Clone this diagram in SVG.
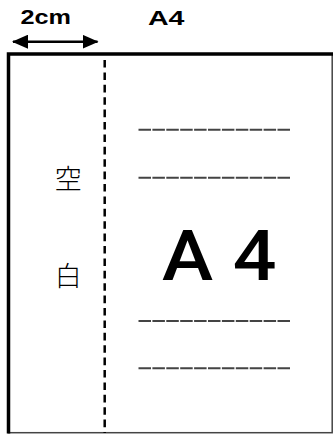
<svg xmlns="http://www.w3.org/2000/svg" width="333" height="434" viewBox="0 0 333 434">
<style>
.hdr{font-family:"Liberation Sans",Arial,sans-serif;font-weight:bold;font-size:20.5px;fill:#000}
.big{font-family:Roboto,"Liberation Sans",Arial,sans-serif;font-weight:500;font-size:70px;fill:#000}
.cjk{font-family:"Noto Sans CJK JP",sans-serif;font-weight:300;font-size:27px;fill:#000}
.rule{stroke:#444;stroke-width:2;stroke-dasharray:12.5 1.4;fill:none}
</style>
<defs>
<marker id="ah" viewBox="0 0 16 14" refX="15" refY="7" markerWidth="16" markerHeight="14" markerUnits="userSpaceOnUse" orient="auto-start-reverse">
<path d="M0 0 L16 7 L0 14 Z" fill="#000"/>
</marker>
</defs>
<rect width="333" height="434" fill="#fff"/>
<g id="page">
<rect x="8.5" y="54" width="323.7" height="378.7" fill="#fff" stroke="#444" stroke-width="1.5"/>
<path d="M8.5 433.5 V54 H333" fill="none" stroke="#000" stroke-width="3.5"/>
</g>
<g id="connectors">
<line x1="13" y1="41.7" x2="97.5" y2="41.7" stroke="#000" stroke-width="2.5" marker-start="url(#ah)" marker-end="url(#ah)"/>
<line x1="104.7" y1="60" x2="104.7" y2="433" stroke="#000" stroke-width="2.5" stroke-dasharray="7.6 4.8"/>
</g>
<g id="labels">
<text class="hdr" x="20.5" y="24" textLength="50.5" lengthAdjust="spacingAndGlyphs">2cm</text>
<text class="hdr" x="148" y="24.5" textLength="36.5" lengthAdjust="spacingAndGlyphs">A4</text>
</g>
<g id="margin">
<text class="cjk" x="68.3" y="189" text-anchor="middle">空</text>
<text class="cjk" x="68.3" y="286" text-anchor="middle">白</text>
</g>
<g id="content">
<line class="rule" x1="138.5" y1="129.7" x2="291" y2="129.7"/>
<line class="rule" x1="138.5" y1="177.7" x2="291" y2="177.7"/>
<text class="big" transform="scale(1.1,1)" y="280"><tspan x="147.3">A</tspan> <tspan x="211.5">4</tspan></text>
<line class="rule" x1="138.5" y1="321" x2="291" y2="321"/>
<line class="rule" x1="138.5" y1="368.3" x2="291" y2="368.3"/>
</g>
</svg>
